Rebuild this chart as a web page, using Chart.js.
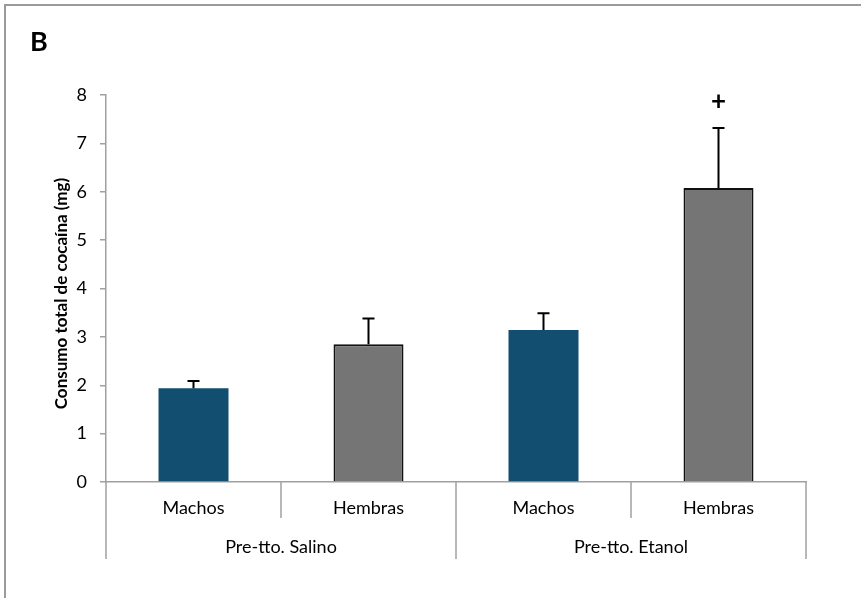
<!DOCTYPE html>
<html>
<head>
<meta charset="utf-8">
<script src="https://cdn.jsdelivr.net/npm/chart.js@4"></script>
<style>
  html, body { margin: 0; padding: 0; background: #fff; }
  canvas { display: block; }
</style>
</head>
<body>
<canvas id="c" width="862" height="598"></canvas>
<script>
// Total cocaine intake by sex and pre-treatment
const panelLabel = 'B';
const yTitle = 'Consumo total de cocaína (mg)';
const groups = ['Pre-tto. Salino', 'Pre-tto. Etanol'];
const groupOfBar = [0, 0, 1, 1];
const sexes = ['Machos', 'Hembras', 'Machos', 'Hembras'];
const means = [1.94, 2.85, 3.14, 6.08];
const sems = [0.15, 0.53, 0.35, 1.24];
const marks = ['', '', '', '+'];
const yMin = 0, yMax = 8, yStep = 1;

const BLUE = '#124e6f';
const GREY = '#757575';
const AXIS = '#a0a0a0';
const FONT = 'Lato, "Open Sans", sans-serif';

const barColors = sexes.map(s => s === 'Machos' ? BLUE : GREY);
const barBorders = sexes.map(s => s === 'Machos' ? BLUE : '#111');
const barBorderWidths = sexes.map(s => s === 'Machos' ? 0 : 2);

const decorations = {
  id: 'decorations',
  afterDatasetsDraw(chart) {
    const ctx = chart.ctx;
    const y = chart.scales.y;
    const meta = chart.getDatasetMeta(0);
    ctx.save();
    ctx.strokeStyle = '#000';
    ctx.lineWidth = 2;
    meta.data.forEach((bar, i) => {
      const top = y.getPixelForValue(means[i] + sems[i]);
      const base = y.getPixelForValue(means[i]);
      ctx.beginPath();
      ctx.moveTo(bar.x, base);
      ctx.lineTo(bar.x, top);
      ctx.moveTo(bar.x - 6, top);
      ctx.lineTo(bar.x + 6, top);
      ctx.stroke();
      if (marks[i]) {
        ctx.fillStyle = '#000';
        ctx.font = 'bold 26px ' + FONT;
        ctx.textAlign = 'center';
        ctx.textBaseline = 'middle';
        ctx.fillText(marks[i], bar.x, top - 26);
      }
    });
    ctx.restore();
  },
  afterDraw(chart) {
    const ctx = chart.ctx;
    const area = chart.chartArea;
    const x = chart.scales.x;
    ctx.save();

    // figure frame (left and top edges)
    ctx.strokeStyle = '#9a9a9a';
    ctx.lineWidth = 2;
    ctx.beginPath();
    ctx.moveTo(5, chart.height);
    ctx.lineTo(5, 5);
    ctx.lineTo(chart.width - 1, 5);
    ctx.stroke();

    // panel letter
    ctx.fillStyle = '#000';
    ctx.font = 'bold 27px ' + FONT;
    ctx.textAlign = 'left';
    ctx.textBaseline = 'middle';
    ctx.fillText(panelLabel, 30, 42);

    // y axis title
    ctx.save();
    ctx.translate(62, (area.top + area.bottom) / 2 + 5);
    ctx.rotate(-Math.PI / 2);
    ctx.font = 'bold 17px ' + FONT;
    ctx.textAlign = 'center';
    ctx.textBaseline = 'middle';
    ctx.fillText(yTitle, 0, 0);
    ctx.restore();

    // two-level category axis
    const n = sexes.length;
    const half = (x.getPixelForValue(1) - x.getPixelForValue(0)) / 2;
    ctx.strokeStyle = AXIS;
    ctx.lineWidth = 1.5;
    for (let i = 0; i <= n; i++) {
      const bx = i < n ? x.getPixelForValue(i) - half : x.getPixelForValue(n - 1) + half;
      const groupEdge = i === 0 || i === n || groupOfBar[i] !== groupOfBar[i - 1];
      ctx.beginPath();
      ctx.moveTo(bx, area.bottom);
      ctx.lineTo(bx, area.bottom + (groupEdge ? 77 : 36));
      ctx.stroke();
    }
    ctx.fillStyle = '#000';
    ctx.font = '18px ' + FONT;
    ctx.textAlign = 'center';
    ctx.textBaseline = 'middle';
    sexes.forEach((s, i) => ctx.fillText(s, x.getPixelForValue(i), area.bottom + 26));
    groups.forEach((g, gi) => {
      const idx = groupOfBar.map((v, i) => v === gi ? i : -1).filter(i => i >= 0);
      const cx = (x.getPixelForValue(idx[0]) + x.getPixelForValue(idx[idx.length - 1])) / 2;
      ctx.fillText(g, cx, area.bottom + 65);
    });
    ctx.restore();
  }
};

new Chart(document.getElementById('c'), {
  type: 'bar',
  data: {
    labels: sexes,
    datasets: [{
      data: means,
      backgroundColor: barColors,
      borderColor: barBorders,
      borderWidth: barBorderWidths,
      categoryPercentage: 1,
      barPercentage: 0.4
    }]
  },
  options: {
    responsive: false,
    devicePixelRatio: 1,
    animation: false,
    layout: { padding: { top: 95, right: 56, left: 0, bottom: 0 } },
    plugins: { legend: { display: false }, tooltip: { enabled: false }, title: { display: false } },
    scales: {
      x: {
        grid: { display: false },
        ticks: { display: false },
        border: { display: true, color: AXIS, width: 1.5 },
        afterFit(s) { s.height = 116; }
      },
      y: {
        min: yMin,
        max: yMax,
        ticks: { stepSize: yStep, color: '#000', font: { family: FONT, size: 18 }, padding: 13 },
        grid: { display: true, drawOnChartArea: false, drawTicks: true, tickLength: 6, color: AXIS, lineWidth: 1.5 },
        border: { display: true, color: AXIS, width: 1.5 },
        afterFit(s) { s.width = 106; }
      }
    }
  },
  plugins: [decorations]
});
</script>
</body>
</html>
